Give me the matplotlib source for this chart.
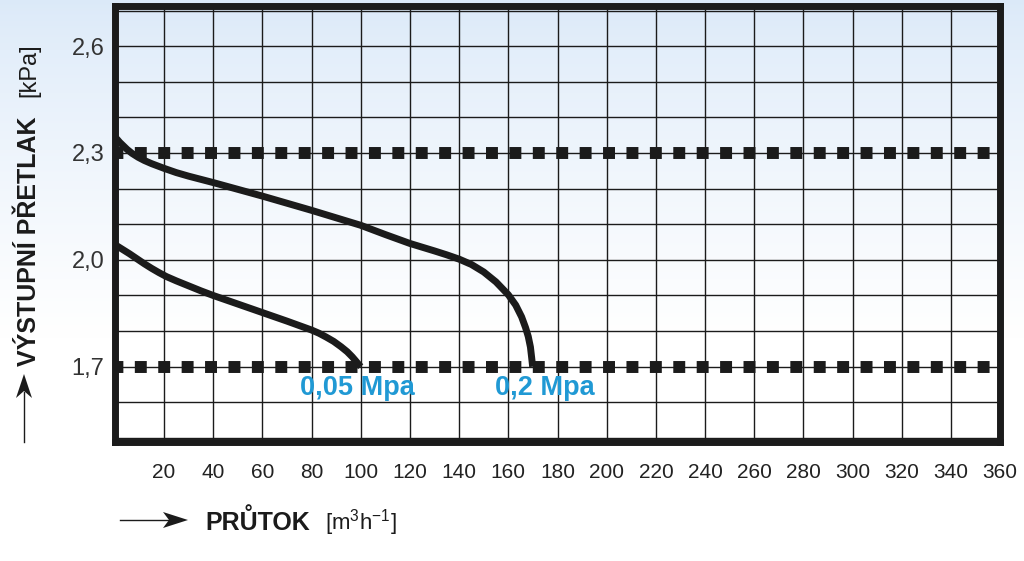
import matplotlib.pyplot as plt
import numpy as np
from matplotlib.lines import Line2D
from matplotlib.patches import Polygon

plt.rcParams['font.family'] = ['Liberation Sans', 'DejaVu Sans']

# flow [m3/h] vs. outlet overpressure [kPa]
flow_005 = [0, 3, 6, 9, 12, 15, 18, 21, 25, 30, 35, 40, 50, 60, 70, 80,
            83, 86, 89, 92, 94.5, 96.5, 98, 99.2, 100]
press_005 = [2.043, 2.03, 2.017, 2.003, 1.989, 1.976, 1.964, 1.953, 1.941,
             1.927, 1.913, 1.90, 1.876, 1.852, 1.828, 1.803, 1.794, 1.783,
             1.771, 1.756, 1.742, 1.728, 1.716, 1.706, 1.70]

flow_02 = [0, 1, 2, 3.5, 5, 7, 9.5, 12, 15, 20, 25, 30, 40, 60, 80, 100,
           110, 120, 130, 135, 140, 145, 150, 155, 160, 163, 165.4, 167,
           168.1, 169, 169.5, 169.9]
press_02 = [2.345, 2.338, 2.330, 2.320, 2.310, 2.299, 2.288, 2.279, 2.270,
            2.257, 2.245, 2.235, 2.217, 2.179, 2.139, 2.097, 2.071, 2.046,
            2.025, 2.014, 2.002, 1.987, 1.966, 1.938, 1.902, 1.873, 1.84,
            1.81, 1.785, 1.755, 1.725, 1.70]

limit_levels = [1.7, 2.3]
curve_names = ["0,05 Mpa", "0,2 Mpa"]

x_ticks = list(range(0, 361, 20))
y_ticks = [round(1.5 + 0.1 * i, 1) for i in range(13)]
y_labelled = [1.7, 2.0, 2.3, 2.6]

W, H = 1024, 561
fig = plt.figure(figsize=(W / 100, H / 100), dpi=100)


def px(x, y):
    # image pixels (origin top-left) -> figure fraction
    return x / W, 1 - y / H


# pale blue wash fading to white towards the bottom
bg = fig.add_axes([0, 0, 1, 1], zorder=-10)
t = np.linspace(0, 1, 300)[:, None, None]
top = np.array([0.86, 0.915, 0.975])
grad = top + (1 - top) * np.clip(t / 0.6, 0, 1) ** 0.8
bg.imshow(grad, aspect='auto', extent=[0, 1, 0, 1])
bg.axis('off')

ink = '#1b1b1b'
blue = '#2099d4'

x0, x1 = px(114.8, 0)[0], px(1000.2, 0)[0]
y_top, y_bot = px(0, 6)[1], px(0, 442)[1]
ax = fig.add_axes([x0, y_bot, x1 - x0, y_top - y_bot])
ax.set_facecolor('none')
ax.set_xlim(0, 360)
ax.set_ylim(1.4886, 2.7127)

ax.set_xticks(x_ticks)
ax.set_xticklabels(['' if v == 0 else str(v) for v in x_ticks])
ax.set_yticks(y_ticks)
ax.set_yticklabels([f"{v:.1f}".replace('.', ',') if v in y_labelled else ''
                    for v in y_ticks])
ax.tick_params(axis='x', length=0, pad=15, labelsize=15, labelcolor='#222222')
ax.tick_params(axis='y', length=0, pad=7.5, labelsize=17, labelcolor='#333333')

ax.set_axisbelow(True)
ax.grid(True, color=ink, lw=1.0)
for sp in ax.spines.values():
    sp.set_linewidth(5)
    sp.set_color(ink)
    sp.set_zorder(10)

for lvl in limit_levels:
    ax.axhline(lvl, color=ink, lw=8.6, linestyle=(0.3, (1.0, 0.96)),
               dash_capstyle='butt', zorder=3)

ax.plot(flow_005, press_005, color=ink, lw=5, solid_capstyle='butt',
        solid_joinstyle='round', zorder=4)
ax.plot(flow_02, press_02, color=ink, lw=5, solid_capstyle='butt',
        solid_joinstyle='round', zorder=4)

ax.text(98.5, 1.62, curve_names[0], ha='center', va='baseline', color=blue,
        fontsize=19.5, fontweight='bold', zorder=5)
ax.text(174.9, 1.62, curve_names[1], ha='center', va='baseline', color=blue,
        fontsize=19.5, fontweight='bold', zorder=5)

# axis titles with their arrows
fig.add_artist(Line2D(*zip(px(120, 520), px(170, 520)), transform=fig.transFigure,
                      color=ink, lw=1.0))
fig.add_artist(Polygon([px(188, 520), px(163, 512), px(169, 520), px(163, 528)],
                       closed=True, transform=fig.transFigure, fc=ink, ec='none'))
fig.text(*px(205, 530), "PRŮTOK", ha='left', va='baseline', fontsize=18,
         fontweight='bold', color=ink)
fig.text(*px(325, 530), r"[m$^{\mathregular{3}}$h$^{\mathregular{-1}}$]",
         ha='left', va='baseline', fontsize=16, color=ink)

fig.add_artist(Line2D(*zip(px(24, 442), px(24, 392)), transform=fig.transFigure,
                      color=ink, lw=1.0))
fig.add_artist(Polygon([px(24, 374), px(16, 398), px(24, 391), px(32, 398)],
                       closed=True, transform=fig.transFigure, fc=ink, ec='none'))
fig.text(*px(36, 366), "VÝSTUPNÍ PŘETLAK", rotation=90, rotation_mode='anchor',
         ha='left', va='baseline', fontsize=18, fontweight='bold', color=ink)
fig.text(*px(35, 97), "[kPa]", rotation=90, rotation_mode='anchor',
         ha='left', va='baseline', fontsize=17, color=ink)

fig.savefig('out.png', dpi=100)
